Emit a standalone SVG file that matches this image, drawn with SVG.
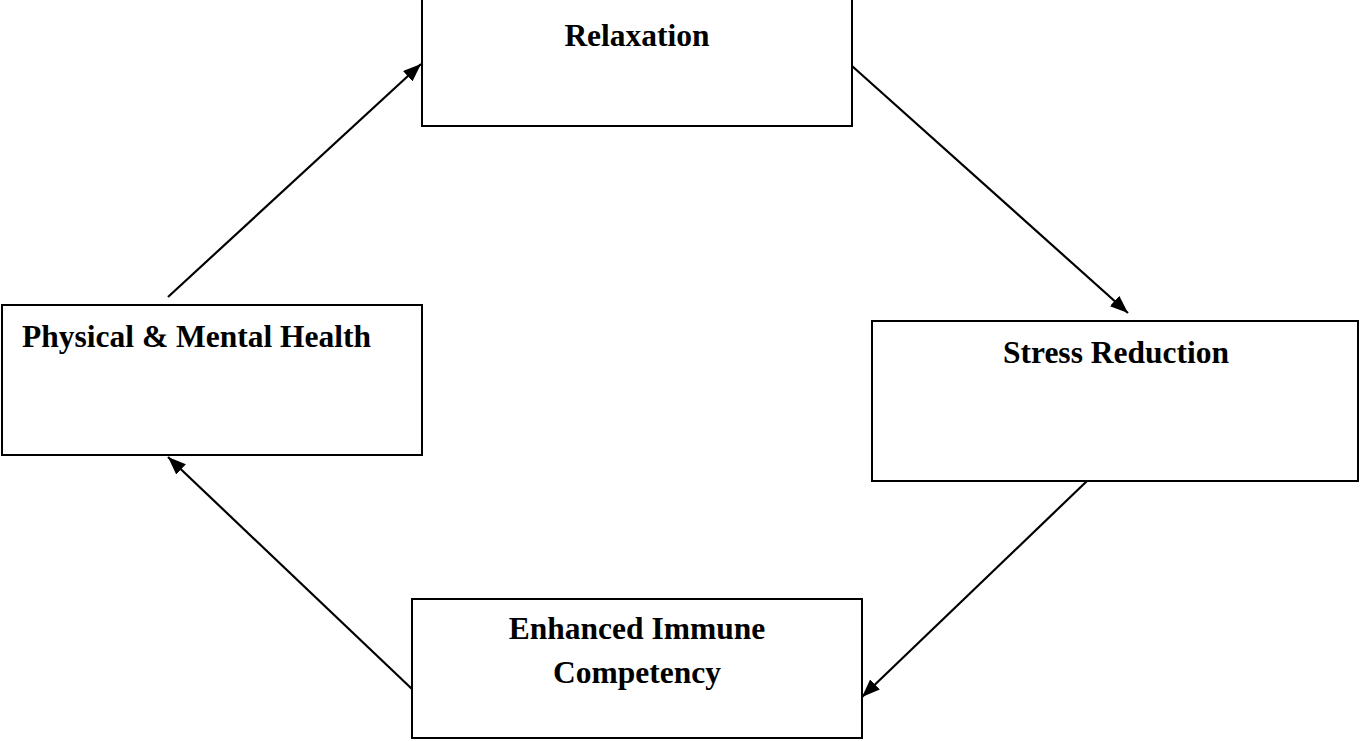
<svg xmlns="http://www.w3.org/2000/svg" width="1361" height="741" viewBox="0 0 1361 741">
<style>
.box{fill:#fff;stroke:#000;stroke-width:2}
.lbl{font-family:"Liberation Serif","Times New Roman",serif;font-weight:bold;font-size:31.5px;fill:#000}
.c{text-anchor:middle}
.conn line{stroke:#000;stroke-width:2.2}
</style>
<defs>
<marker id="ah" viewBox="0 0 18 14" refX="18" refY="7" markerWidth="18" markerHeight="14" markerUnits="userSpaceOnUse" orient="auto">
<path d="M0,0 L18,7 L0,14 z" fill="#000"/>
</marker>
</defs>
<rect width="1361" height="741" fill="#fff"/>
<g id="relaxation">
<rect class="box" x="422" y="-2" width="430" height="128"/>
<text class="lbl c" x="637" y="46">Relaxation</text>
</g>
<g id="physical-mental-health">
<rect class="box" x="2" y="305" width="420" height="150"/>
<text class="lbl" x="22" y="347">Physical &amp; Mental Health</text>
</g>
<g id="stress-reduction">
<rect class="box" x="872" y="321" width="486" height="160"/>
<text class="lbl c" x="1116" y="363">Stress Reduction</text>
</g>
<g id="enhanced-immune">
<rect class="box" x="412" y="599" width="450" height="139"/>
<text class="lbl c" x="637" y="639">Enhanced Immune</text>
<text class="lbl c" x="637" y="683">Competency</text>
</g>
<g class="conn" id="connectors">
<line x1="168" y1="297" x2="421" y2="64" marker-end="url(#ah)"/>
<line x1="852" y1="66" x2="1128" y2="313" marker-end="url(#ah)"/>
<line x1="1087" y1="481" x2="862" y2="697" marker-end="url(#ah)"/>
<line x1="412" y1="689" x2="168" y2="457" marker-end="url(#ah)"/>
</g>
</svg>
